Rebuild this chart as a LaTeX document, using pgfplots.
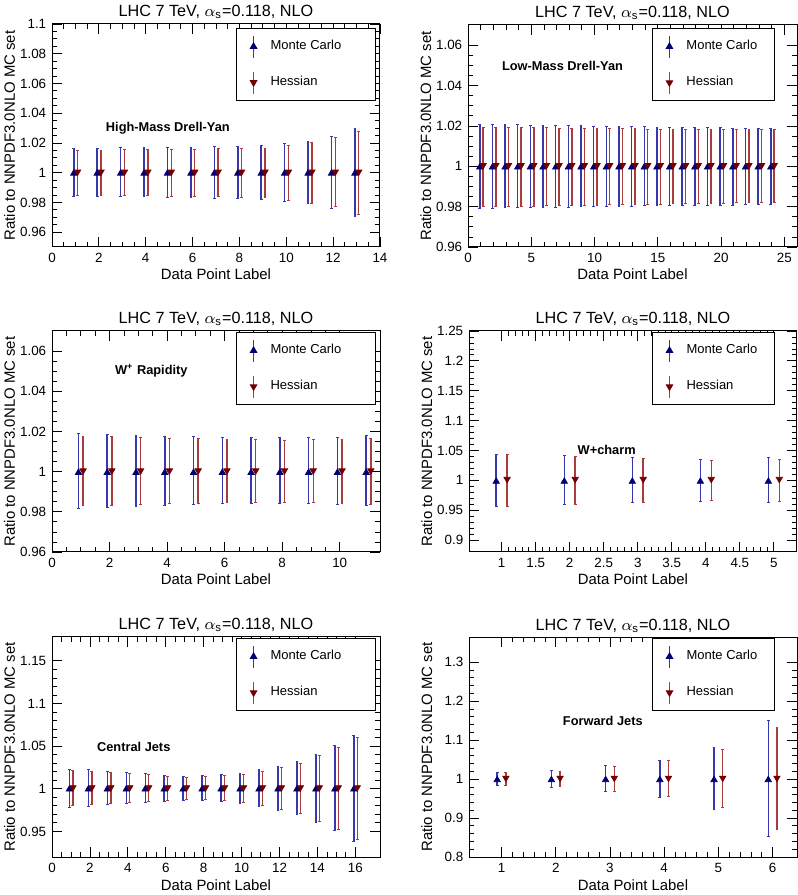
\documentclass[border=0pt]{standalone}
\usepackage{fontspec}
\setmainfont{Liberation Sans}
\usepackage{pgfplots}
\usepackage{pgfplotstable}
\pgfplotsset{compat=1.18}

\definecolor{mcmark}{rgb}{0,0,0.45}
\definecolor{mcbar}{rgb}{0.22,0.22,0.68}
\definecolor{hmark}{rgb}{0.45,0,0}
\definecolor{hbar}{rgb}{0.66,0.24,0.24}

% x: point label, m/ml/mh: Monte Carlo centre, low, high; h/hl/hh: Hessian
\pgfplotstableread{
x m ml mh h hl hh
1 0.9995 0.9839 1.0161 1.0005 0.9845 1.0150
2 0.9995 0.9839 1.0161 1.0005 0.9845 1.0150
3 0.9995 0.9839 1.0166 1.0005 0.9845 1.0155
4 0.9995 0.9839 1.0166 1.0005 0.9845 1.0155
5 0.9995 0.9834 1.0168 1.0005 0.9841 1.0157
6 0.9995 0.9832 1.0170 1.0005 0.9841 1.0157
7 0.9995 0.9827 1.0173 1.0005 0.9839 1.0160
8 0.9995 0.9825 1.0173 1.0005 0.9836 1.0160
9 0.9995 0.9820 1.0180 1.0005 0.9832 1.0164
10 0.9995 0.9807 1.0193 1.0005 0.9814 1.0180
11 0.9995 0.9790 1.0209 1.0005 0.9795 1.0200
12 0.9995 0.9760 1.0240 1.0005 0.9773 1.0234
13 0.9995 0.9707 1.0295 1.0005 0.9720 1.0275
}\hmdy

\pgfplotstableread{
x m ml mh h hl hh
1 0.9995 0.9793 1.0207 1.0005 0.9800 1.0193
2 0.9995 0.9793 1.0206 1.0005 0.9801 1.0192
3 0.9995 0.9794 1.0206 1.0005 0.9801 1.0192
4 0.9995 0.9794 1.0205 1.0005 0.9802 1.0191
5 0.9995 0.9795 1.0204 1.0005 0.9803 1.0190
6 0.9995 0.9796 1.0203 1.0005 0.9804 1.0190
7 0.9995 0.9797 1.0202 1.0005 0.9805 1.0189
8 0.9995 0.9798 1.0201 1.0005 0.9806 1.0188
9 0.9995 0.9799 1.0200 1.0005 0.9807 1.0188
10 0.9995 0.9800 1.0199 1.0005 0.9808 1.0187
11 0.9995 0.9801 1.0198 1.0005 0.9809 1.0186
12 0.9995 0.9802 1.0197 1.0005 0.9810 1.0186
13 0.9995 0.9803 1.0196 1.0005 0.9811 1.0185
14 0.9995 0.9804 1.0195 1.0005 0.9812 1.0184
15 0.9995 0.9805 1.0194 1.0005 0.9813 1.0184
16 0.9995 0.9805 1.0193 1.0005 0.9814 1.0183
17 0.9995 0.9806 1.0192 1.0005 0.9815 1.0183
18 0.9995 0.9807 1.0191 1.0005 0.9816 1.0182
19 0.9995 0.9807 1.0190 1.0005 0.9817 1.0182
20 0.9995 0.9808 1.0190 1.0005 0.9817 1.0181
21 0.9995 0.9808 1.0189 1.0005 0.9818 1.0181
22 0.9995 0.9809 1.0189 1.0005 0.9818 1.0180
23 0.9995 0.9809 1.0188 1.0005 0.9819 1.0180
24 0.9995 0.9810 1.0188 1.0005 0.9819 1.0180
}\lmdy

\pgfplotstableread{
x m ml mh h hl hh
1 0.9995 0.9818 1.0188 1.0005 0.9832 1.0177
2 0.9995 0.9822 1.0187 1.0005 0.9833 1.0175
3 0.9995 0.9827 1.0180 1.0005 0.9837 1.0170
4 0.9995 0.9832 1.0177 1.0005 0.9840 1.0167
5 0.9995 0.9837 1.0173 1.0005 0.9843 1.0163
6 0.9995 0.9840 1.0170 1.0005 0.9847 1.0160
7 0.9995 0.9842 1.0168 1.0005 0.9848 1.0158
8 0.9995 0.9842 1.0168 1.0005 0.9848 1.0157
9 0.9995 0.9842 1.0168 1.0005 0.9847 1.0158
10 0.9995 0.9838 1.0172 1.0005 0.9843 1.0162
11 0.9995 0.9830 1.0178 1.0005 0.9838 1.0165
}\wrap

\pgfplotstableread{
x m ml mh h hl hh
1 0.998 0.9561 1.0433 1.002 0.9570 1.0428
2 0.998 0.9594 1.0411 1.002 0.9600 1.0406
3 0.998 0.9622 1.0389 1.002 0.9630 1.0367
4 0.998 0.9650 1.0356 1.002 0.9667 1.0333
5 0.998 0.9628 1.0378 1.002 0.9650 1.0356
}\wch

\pgfplotstableread{
x m ml mh h hl hh
1 0.9995 0.9785 1.0230 1.0015 0.9800 1.0215
2 0.9995 0.9790 1.0227 1.0015 0.9810 1.0203
3 0.9995 0.9810 1.0200 1.0015 0.9824 1.0188
4 0.9995 0.9824 1.0190 1.0015 0.9836 1.0176
5 0.9995 0.9836 1.0176 1.0015 0.9848 1.0164
6 0.9995 0.9855 1.0156 1.0015 0.9863 1.0148
7 0.9995 0.9863 1.0148 1.0015 0.9870 1.0137
8 0.9995 0.9863 1.0152 1.0015 0.9870 1.0140
9 0.9995 0.9852 1.0164 1.0015 0.9860 1.0152
10 0.9995 0.9832 1.0184 1.0015 0.9844 1.0172
11 0.9995 0.9793 1.0223 1.0015 0.9805 1.0207
12 0.9995 0.9746 1.0260 1.0015 0.9758 1.0246
13 0.9995 0.9700 1.0320 1.0015 0.9707 1.0300
14 0.9995 0.9610 1.0400 1.0015 0.9620 1.0387
15 0.9995 0.9512 1.0510 1.0015 0.9523 1.0480
16 0.9995 0.9387 1.0630 1.0015 0.9400 1.0605
}\cjet

\pgfplotstableread{
x m ml mh h hl hh
1 0.998 0.983 1.018 1.003 0.983 1.017
2 0.998 0.9796 1.022 1.003 0.980 1.020
3 0.998 0.968 1.034 1.003 0.969 1.032
4 0.998 0.952 1.049 1.003 0.955 1.0485
5 0.998 0.922 1.080 1.003 0.927 1.075
6 0.998 0.852 1.150 1.003 0.870 1.133
}\fjet

\pgfplotsset{
  rootax/.style={
    scale only axis, anchor=south west,
    tick align=inside, xtick pos=both, ytick pos=both,
    major tick length=5pt, minor tick length=2.5pt,
    tick style={black, line width=0.4pt},
    axis line style={black, line width=0.5pt},
    /pgf/number format/assume math mode=true,
    /pgf/number format/fixed, /pgf/number format/precision=2,
    tick label style={font=\fontsize{6.7}{7}\selectfont},
    xticklabel style={inner sep=0pt, anchor=north, yshift=-3pt},
    yticklabel style={inner sep=0pt, anchor=east, xshift=-2.7pt},
    title={LHC 7 TeV, $\alpha_{\mathrm{s}}$=0.118, NLO},
    every axis title/.style={font=\fontsize{8.1}{9}\selectfont, at={(rel axis cs:0.5,1)}, anchor=base, yshift=3.5pt},
    xlabel={Data Point Label},
    ylabel={Ratio to NNPDF3.0NLO MC set},
    every axis x label/.style={at={(rel axis cs:0.5,0)}, anchor=base, yshift=-16.5pt, font=\fontsize{7.45}{8}\selectfont},
    every axis y label/.style={at={(rel axis cs:0,0.5)}, xshift=-18.5pt, rotate=90, anchor=base, font=\fontsize{7.45}{8}\selectfont},
    legend cell align=left,
  },
  rootleg/.style 2 args={
    legend style={at={(rel axis cs:#1,#2)}, anchor=north east, draw=black, line width=0.5pt, fill=white,
      inner sep=0pt, row sep=0pt, column sep=0pt, nodes={inner sep=0pt},
      font=\fontsize{6.5}{7}\selectfont},
  },
  mc/.style={
    only marks, mark=triangle*, mark size=1.8pt, color=mcmark,
    error bars/.cd, y dir=both, y explicit,
    error bar style={color=mcbar, line width=0.75pt},
    error mark options={rotate=90, mark size=0.7pt, line width=0.5pt, color=mcbar},
    /pgfplots/.cd,
    legend image code/.code={
      \path[draw=none, fill=none] (-8.5pt,-9pt) rectangle (8.5pt,9pt);
      \draw[mcbar, line width=0.75pt] (0pt,-5.5pt) -- (0pt,5.5pt);
      \draw[mcmark] plot[only marks, mark=triangle*, mark size=1.8pt] coordinates {(0pt,0pt)};
    },
  },
  hs/.style={
    only marks, mark=triangle*, mark size=1.8pt, mark options={rotate=180}, color=hmark,
    error bars/.cd, y dir=both, y explicit,
    error bar style={color=hbar, line width=0.75pt},
    error mark options={rotate=90, mark size=0.7pt, line width=0.5pt, color=hbar},
    /pgfplots/.cd,
    legend image code/.code={
      \path[draw=none, fill=none] (-8.5pt,-9pt) rectangle (8.5pt,9pt);
      \draw[hbar, line width=0.75pt] (0pt,-5.5pt) -- (0pt,5.5pt);
      \draw[hmark] plot[only marks, mark=triangle*, mark size=1.8pt, mark options={rotate=180}] coordinates {(0pt,0pt)};
    },
  },
}

% #1 table, #2 shift of Monte Carlo, #3 shift of Hessian
\newcommand{\twoplots}[3]{%
  \addplot[mc] table[x expr=\thisrow{x}-#2, y=m,
    y error plus expr=\thisrow{mh}-\thisrow{m}, y error minus expr=\thisrow{m}-\thisrow{ml}] {#1};
  \addplot[hs] table[x expr=\thisrow{x}+#3, y=h,
    y error plus expr=\thisrow{hh}-\thisrow{h}, y error minus expr=\thisrow{h}-\thisrow{hl}] {#1};
}

\newcommand{\annot}{\bfseries\fontsize{6.4}{7}\selectfont}

\begin{document}
\begin{tikzpicture}
\useasboundingbox (0,0) rectangle (399pt,447.5pt);

% --- High-Mass Drell-Yan ---
\begin{axis}[rootax, at={(26pt,324pt)}, width=164pt, height=111.5pt,
  xmin=0, xmax=14, ymin=0.95, ymax=1.1,
  xtick={0,2,4,6,8,10,12,14}, minor x tick num=3,
  ytick={0.96,0.98,1,1.02,1.04,1.06,1.08,1.1}, minor y tick num=3,
  rootleg={0.988}{0.982}]
  \twoplots{\hmdy}{0.07}{0.09}
  \addlegendentry{\makebox[52.5pt][l]{Monte Carlo}}
  \addlegendentry{\makebox[52.5pt][l]{Hessian}}
  \node[anchor=base west, font=\annot] at (rel axis cs:0.143,0.517) {High-Mass Drell-Yan};
\end{axis}

% --- Low-Mass Drell-Yan ---
\begin{axis}[rootax, at={(234pt,324pt)}, width=164.5pt, height=111pt,
  xmin=0, xmax=26, ymin=0.96, ymax=1.07,
  xtick={0,5,10,15,20,25}, minor x tick num=4,
  ytick={0.96,0.98,1,1.02,1.04,1.06}, minor y tick num=3,
  rootleg={0.933}{0.986}]
  \twoplots{\lmdy}{0.07}{0.2}
  \addlegendentry{\makebox[44pt][l]{Monte Carlo}}
  \addlegendentry{\makebox[44pt][l]{Hessian}}
  \node[anchor=base west, font=\annot] at (rel axis cs:0.082,0.797) {Low-Mass Drell-Yan};
\end{axis}

% --- W+ rapidity ---
\begin{axis}[rootax, at={(26pt,171.5pt)}, width=164pt, height=110.5pt,
  xmin=0, xmax=11.4, ymin=0.96, ymax=1.07,
  xtick={0,2,4,6,8,10}, minor x tick num=3,
  ytick={0.96,0.98,1,1.02,1.04,1.06}, minor y tick num=3,
  rootleg={0.988}{0.995}]
  \twoplots{\wrap}{0.08}{0.08}
  \addlegendentry{\makebox[52.5pt][l]{Monte Carlo}}
  \addlegendentry{\makebox[52.5pt][l]{Hessian}}
  \node[anchor=base west, font=\annot] at (rel axis cs:0.171,0.805) {W\textsuperscript{+} Rapidity};
\end{axis}

% --- W+charm ---
\begin{axis}[rootax, at={(234.5pt,171.5pt)}, width=164pt, height=110.5pt,
  xmin=0.52, xmax=5.34, ymin=0.88, ymax=1.25,
  xtick={1,1.5,2,2.5,3,3.5,4,4.5,5}, minor x tick num=4,
  ytick={0.9,0.95,1,1.05,1.1,1.15,1.2,1.25}, minor y tick num=4,
  rootleg={0.933}{0.995}]
  \twoplots{\wch}{0.08}{0.08}
  \addlegendentry{\makebox[44pt][l]{Monte Carlo}}
  \addlegendentry{\makebox[44pt][l]{Hessian}}
  \node[anchor=base west, font=\annot] at (rel axis cs:0.31,0.439) {W+charm};
\end{axis}

% --- Central jets ---
\begin{axis}[rootax, at={(26pt,19pt)}, width=164pt, height=110pt,
  xmin=0, xmax=17.3, ymin=0.92, ymax=1.178,
  xtick={0,2,4,6,8,10,12,14,16}, minor x tick num=3,
  ytick={0.95,1,1.05,1.1,1.15}, minor y tick num=4,
  rootleg={0.988}{0.995}]
  \twoplots{\cjet}{0.08}{0.1}
  \addlegendentry{\makebox[52.5pt][l]{Monte Carlo}}
  \addlegendentry{\makebox[52.5pt][l]{Hessian}}
  \node[anchor=base west, font=\annot] at (rel axis cs:0.116,0.479) {Central Jets};
\end{axis}

% --- Forward jets ---
\begin{axis}[rootax, at={(234.5pt,19pt)}, width=164pt, height=110pt,
  xmin=0.4, xmax=6.45, ymin=0.8, ymax=1.365,
  xtick={1,2,3,4,5,6}, minor x tick num=4,
  ytick={0.8,0.9,1,1.1,1.2,1.3}, minor y tick num=4,
  rootleg={0.933}{0.995}]
  \twoplots{\fjet}{0.08}{0.08}
  \addlegendentry{\makebox[44pt][l]{Monte Carlo}}
  \addlegendentry{\makebox[44pt][l]{Hessian}}
  \node[anchor=base west, font=\annot] at (rel axis cs:0.265,0.597) {Forward Jets};
\end{axis}
\end{tikzpicture}
\end{document}
